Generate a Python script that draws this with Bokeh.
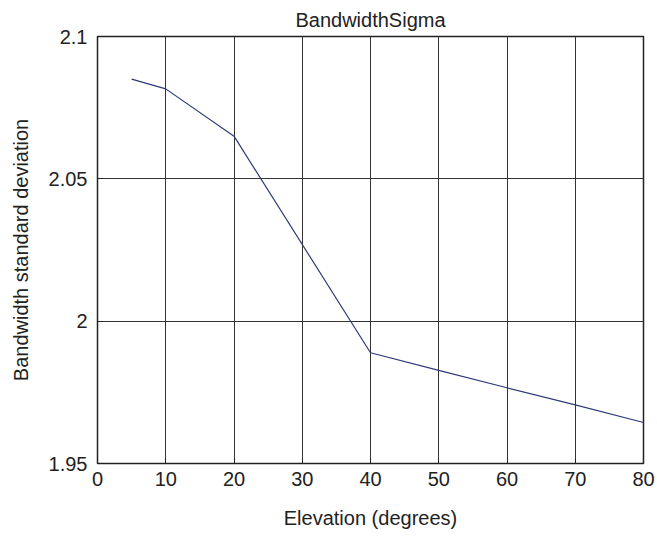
from bokeh.plotting import figure
from bokeh.models import FixedTicker, CustomJSTickFormatter, Range1d
from bokeh.embed import file_html
from bokeh.resources import INLINE

elevation = [5, 10, 20, 40, 50, 60, 70, 80]
sigma = [2.085, 2.0816, 2.065, 1.9889, 1.9827, 1.9766, 1.9706, 1.9644]
x_ticks = [0, 10, 20, 30, 40, 50, 60, 70, 80]
y_ticks = [1.95, 2.0, 2.05, 2.1]

FONT = "Liberation Sans"
FS = "20px"

p = figure(width=657, height=536, output_backend="svg", toolbar_location=None,
           x_range=Range1d(0, 80), y_range=Range1d(1.95, 2.1),
           min_border_left=97, min_border_right=14, min_border_top=36, min_border_bottom=73,
           title="BandwidthSigma")
p.title.align = "center"
p.title.vertical_align = "middle"
p.title.text_font = FONT
p.title.text_font_size = FS
p.title.text_font_style = "normal"
p.title.text_color = "#222222"
p.title.standoff = 9

p.line(elevation, sigma, line_color="#2E3B78", line_width=1.2)

p.outline_line_color = "#222222"
p.outline_line_width = 1.5
p.outline_line_alpha = 1.0

for ax in (p.xaxis[0], p.yaxis[0]):
    ax.axis_line_color = None
    ax.major_tick_in = 5
    ax.major_tick_out = 0
    ax.minor_tick_line_color = None
    ax.major_tick_line_color = "#222222"
    ax.major_label_text_font = FONT
    ax.major_label_text_font_size = FS
    ax.major_label_text_color = "#222222"
    ax.axis_label_text_font = FONT
    ax.axis_label_text_font_size = FS
    ax.axis_label_text_font_style = "normal"
    ax.axis_label_text_color = "#222222"

p.xaxis.ticker = FixedTicker(ticks=x_ticks)
p.yaxis.ticker = FixedTicker(ticks=y_ticks)
p.yaxis.formatter = CustomJSTickFormatter(code="return String(Math.round(tick*100)/100);")
p.xaxis.axis_label = "Elevation (degrees)"
p.yaxis.axis_label = "Bandwidth standard deviation"
p.xaxis.major_label_standoff = 8
p.yaxis.major_label_standoff = 10
p.xaxis.axis_label_standoff = 18
p.yaxis.axis_label_standoff = 14

p.xgrid.ticker = FixedTicker(ticks=x_ticks)
p.ygrid.ticker = FixedTicker(ticks=y_ticks)
for g in (p.xgrid[0], p.ygrid[0]):
    g.grid_line_color = "#333333"
    g.grid_line_width = 1
    g.grid_line_alpha = 1.0

p.background_fill_color = "white"
p.border_fill_color = "white"

open("out.html", "w").write(file_html(p, INLINE))
